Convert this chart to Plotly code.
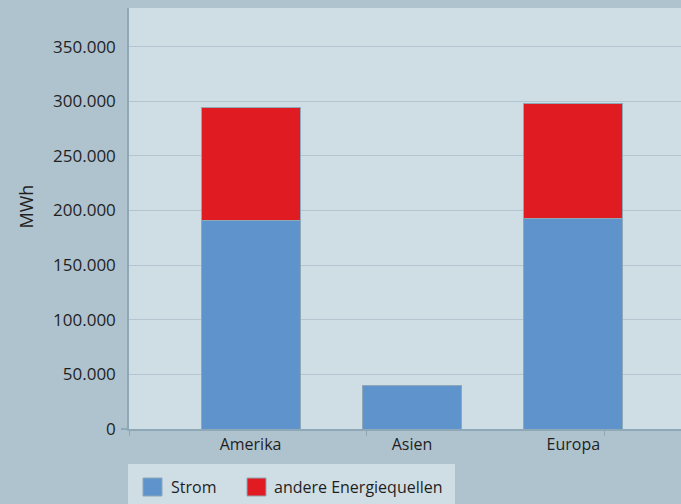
import plotly.graph_objects as go

# Energy consumption by region (MWh)
regions = ["Amerika", "Asien", "Europa"]
strom = [191000, 40000, 193000]
andere = [103000, None, 105000]
series_names = ["Strom", "andere Energiequellen"]
series_colors = ["#5e93cc", "#e01b22"]
y_ticks = [0, 50000, 100000, 150000, 200000, 250000, 300000, 350000]
y_ticklabels = ["0", "50.000", "100.000", "150.000", "200.000", "250.000", "300.000", "350.000"]

W, H = 681, 504
ML, MR, MT, MB = 129, 0, 8, 75
PW, PH = W - ML - MR, H - MT - MB

FONT = "Open Sans"
TXT = "#1f1f1f"
PAPER = "#afc3ce"
PLOT = "#cfdde4"
OUTLINE = "#8ea8b8"


def px_x(p):
    return (p - ML) / PW


def px_y(p):
    return (H - MB - p) / PH


xpos = list(range(len(regions)))

fig = go.Figure()
for name, vals, col in zip(series_names, [strom, andere], series_colors):
    fig.add_trace(go.Bar(
        x=xpos, y=vals, name=name, width=0.613,
        marker=dict(color=col, line=dict(color=OUTLINE, width=1)),
        showlegend=False,
    ))

fig.update_layout(
    width=W, height=H,
    margin=dict(l=ML, r=MR, t=MT, b=MB),
    barmode="stack",
    paper_bgcolor=PAPER,
    plot_bgcolor=PLOT,
    font=dict(family=FONT, size=16, color=TXT),
    xaxis=dict(
        range=[-0.753, 2.667],
        tickmode="array", tickvals=xpos, ticktext=regions,
        ticks="", showgrid=False, zeroline=False,
        showline=True, linecolor=OUTLINE, linewidth=1.5,
        minor=dict(tickmode="array", tickvals=[-0.752, 0.72, 2.19],
                   ticks="outside", ticklen=5, tickcolor=OUTLINE, tickwidth=1),
        tickfont=dict(family=FONT, size=16, color=TXT),
        fixedrange=True,
    ),
    yaxis=dict(
        range=[0, 385300],
        tickmode="array", tickvals=y_ticks, ticktext=y_ticklabels,
        ticks="", showgrid=True, gridcolor="#b2c5d0", gridwidth=1.2,
        zeroline=False, showline=True, linecolor=OUTLINE, linewidth=1.5,
        minor=dict(tickmode="array", tickvals=[0], ticks="outside",
                   ticklen=6, tickcolor=OUTLINE, tickwidth=1.5, showgrid=False),
        ticklabelstandoff=8,
        tickfont=dict(family=FONT, size=17, color=TXT),
        fixedrange=True,
    ),
)

# y-axis title
fig.add_annotation(
    text="MWh", textangle=-90, showarrow=False,
    xref="paper", yref="paper", x=px_x(25.5), y=px_y(207),
    xanchor="center", yanchor="middle",
    font=dict(family=FONT, size=18, color=TXT),
)

# legend panel
shapes = [dict(type="rect", xref="paper", yref="paper",
               x0=px_x(128), x1=px_x(455), y0=px_y(510), y1=px_y(464),
               fillcolor=PLOT, line=dict(width=0), layer="below")]
swatch_x = [143, 247]
text_x = [169, 272]
for sx, tx, name, col in zip(swatch_x, text_x, series_names, series_colors):
    shapes.append(dict(type="rect", xref="paper", yref="paper",
                       x0=px_x(sx), x1=px_x(sx + 19), y0=px_y(496), y1=px_y(478),
                       fillcolor=col, line=dict(color=OUTLINE, width=1)))
    fig.add_annotation(text=name, showarrow=False, xref="paper", yref="paper",
                       x=px_x(tx), y=px_y(487.5), xanchor="left", yanchor="middle",
                       font=dict(family=FONT, size=16, color=TXT))
fig.update_layout(shapes=shapes)

fig.write_html("out.html", config=dict(displayModeBar=False))
